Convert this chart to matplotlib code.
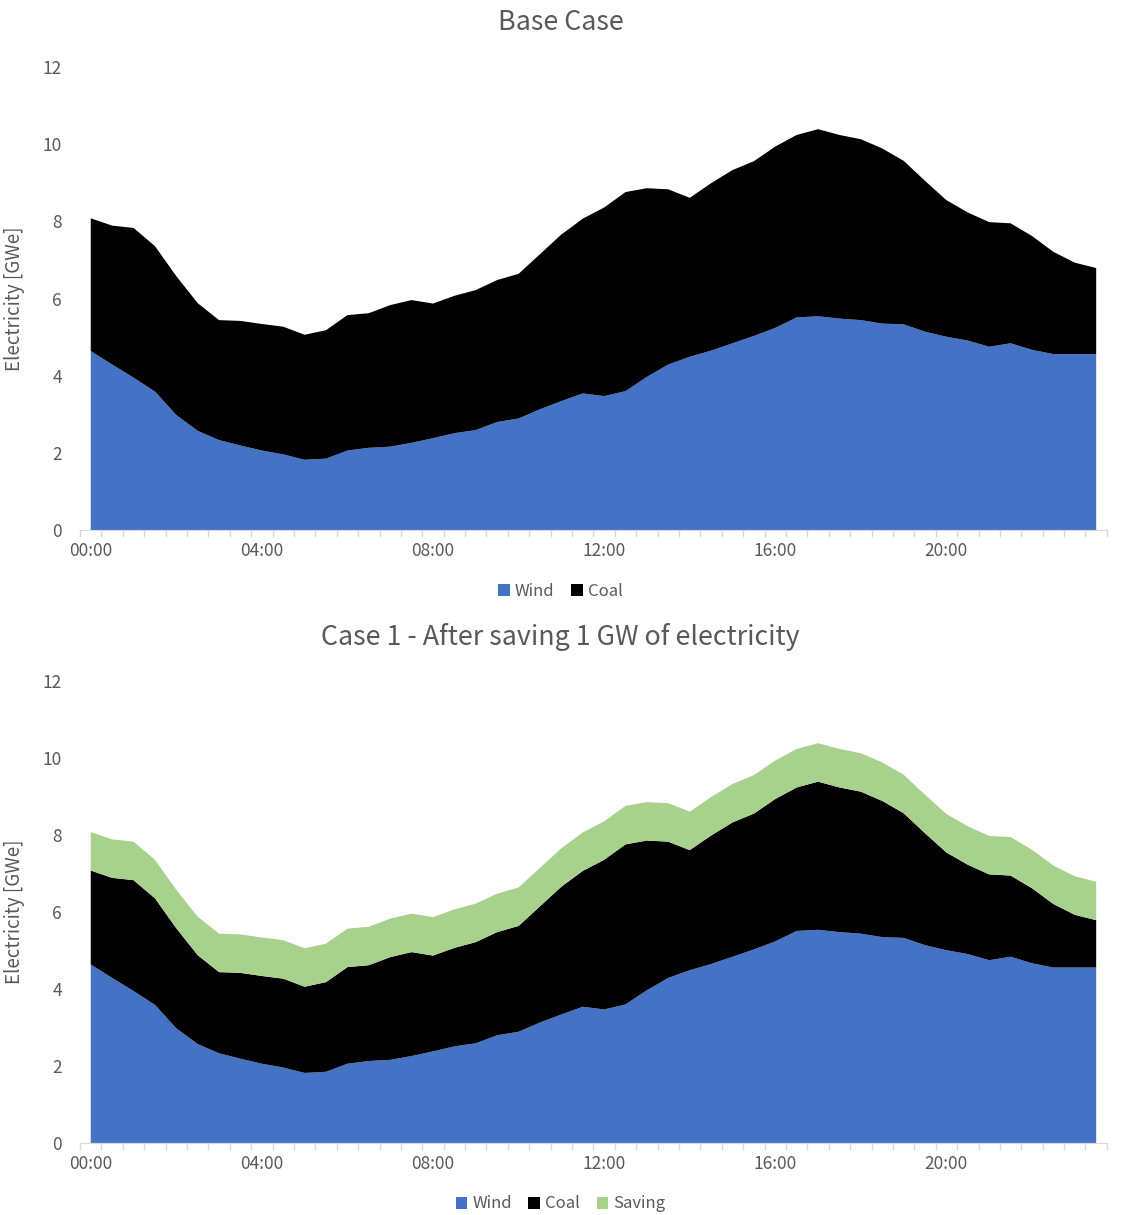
import matplotlib
matplotlib.use('Agg')
import matplotlib.pyplot as plt
import numpy as np

plt.rcParams['font.family'] = ['Noto Sans CJK JP', 'DejaVu Sans']

# half-hourly time labels 00:00 .. 23:30
times = ['%02d:%02d' % (h, m) for h in range(24) for m in (0, 30)]

wind = [4.64, 4.29, 3.95, 3.59, 2.98, 2.57, 2.33, 2.19, 2.06, 1.96,
        1.82, 1.85, 2.06, 2.13, 2.16, 2.26, 2.38, 2.51, 2.59, 2.80,
        2.89, 3.13, 3.34, 3.54, 3.47, 3.60, 3.97, 4.29, 4.49, 4.65,
        4.84, 5.03, 5.24, 5.51, 5.54, 5.48, 5.44, 5.35, 5.33, 5.14,
        5.01, 4.91, 4.75, 4.84, 4.67, 4.56, 4.56, 4.56]

total = [8.08, 7.89, 7.83, 7.36, 6.58, 5.88, 5.44, 5.42, 5.34, 5.27,
         5.06, 5.18, 5.57, 5.62, 5.83, 5.96, 5.87, 6.07, 6.22, 6.48,
         6.64, 7.15, 7.66, 8.07, 8.36, 8.76, 8.86, 8.83, 8.61, 8.99,
         9.33, 9.56, 9.94, 10.24, 10.39, 10.24, 10.13, 9.89, 9.57, 9.05,
         8.55, 8.23, 7.98, 7.95, 7.62, 7.21, 6.93, 6.79]

saving = [1.0] * 48

wind = np.array(wind)
total = np.array(total)
coal_base = total - wind
coal_case1 = total - wind - np.array(saving)

c_wind = '#4472C4'
c_coal = '#000000'
c_save = '#A9D18E'
txt = '#595959'
axis_c = '#D9D9D9'


def style_axis(ax):
    x = np.arange(len(times))
    ax.set_xlim(-0.5, len(times) - 0.5)
    ax.set_ylim(0, 12)
    ax.set_yticks(range(0, 13, 2))
    ax.set_xticks(x[::8])
    ax.set_xticklabels([times[i] for i in x[::8]])
    ax.set_xticks(np.arange(-0.5, len(times), 1), minor=True)
    ax.tick_params(axis='x', which='major', length=0, pad=9, labelsize=12.5, labelcolor=txt)
    ax.tick_params(axis='x', which='minor', length=5, color=axis_c, width=1)
    ax.tick_params(axis='y', length=0, pad=13, labelsize=12.5, labelcolor=txt)
    for s in ['top', 'right', 'left']:
        ax.spines[s].set_visible(False)
    ax.spines['bottom'].set_color(axis_c)
    ax.set_ylabel('Electricity [GWe]', color=txt, fontsize=13.5, labelpad=13)


def add_legend(ax, ypos):
    h, l = ax.get_legend_handles_labels()
    fig.legend(h, l, loc='center', bbox_to_anchor=(0.5, ypos), ncol=len(l), frameon=False,
               handlelength=0.7, handleheight=0.7, handletextpad=0.3, columnspacing=1.0,
               fontsize=12, labelcolor=txt)


fig = plt.figure(figsize=(11.21, 12.15), dpi=100)
ax1 = fig.add_axes([0.0714, 0.5638, 0.916, 0.381])
ax2 = fig.add_axes([0.0714, 0.0593, 0.916, 0.380])

x = np.arange(len(times))
ax1.stackplot(x, wind, coal_base, colors=[c_wind, c_coal], labels=['Wind', 'Coal'], linewidth=0)
style_axis(ax1)
fig.text(0.5, 1 - 22 / 1215, 'Base Case', ha='center', va='center', color=txt, fontsize=19.3)
add_legend(ax1, 1 - 591 / 1215)

ax2.stackplot(x, wind, coal_case1, saving, colors=[c_wind, c_coal, c_save],
              labels=['Wind', 'Coal', 'Saving'], linewidth=0)
style_axis(ax2)
fig.text(0.5, 1 - 637 / 1215, 'Case 1 - After saving 1 GW of electricity', ha='center', va='center',
         color=txt, fontsize=19.3)
add_legend(ax2, 1 - 1204 / 1215)

fig.savefig('out.png', dpi=100)
